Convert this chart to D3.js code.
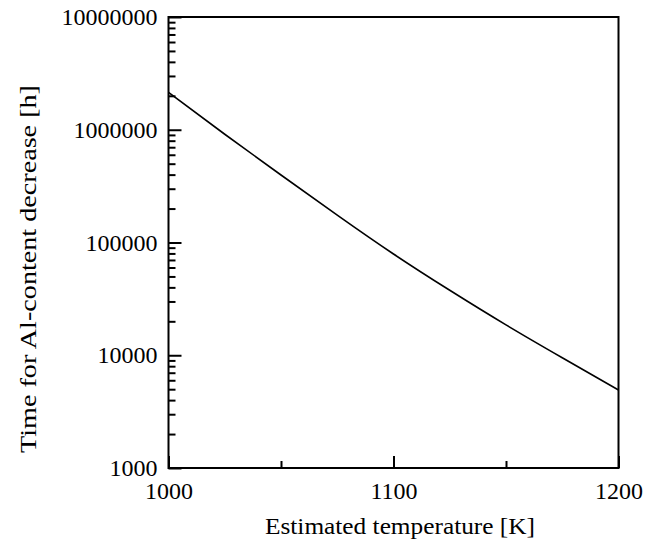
<!DOCTYPE html>
<html>
<head>
<meta charset="utf-8">
<script src="https://cdn.jsdelivr.net/npm/d3@7"></script>
<style>
  html, body { margin: 0; padding: 0; background: #fff; }
  svg { display: block; font-family: "Liberation Serif", "Times New Roman", serif; }
</style>
</head>
<body>
<svg id="chart" width="657" height="542"></svg>
<script>
// Temperature (K) and time until the Al content decreases (h)
const temperatures = [1000, 1025, 1050, 1075, 1100, 1125, 1150, 1175, 1200];
const hours = [2150000, 912000, 397000, 175000, 79100, 37700, 18600, 9510, 4920];

const xMajorTicks = [1000, 1100, 1200];
const xMinorTicks = [1050, 1150];
const yMajorTicks = [1000, 10000, 100000, 1000000, 10000000];

const xTitle = "Estimated temperature [K]";
const yTitle = "Time for Al-content decrease [h]";

const svg = d3.select("#chart");
const plot = { left: 168.5, right: 618.5, top: 17, bottom: 468 };

const x = d3.scaleLinear().domain([1000, 1200]).range([plot.left, plot.right]);
const y = d3.scaleLog().domain([1000, 10000000]).range([plot.bottom, plot.top]);

// minor log ticks: 2..9 of each decade
const yMinorTicks = [];
for (let e = 3; e < 7; e++) for (let m = 2; m <= 9; m++) yMinorTicks.push(m * Math.pow(10, e));

const styleAxis = g => {
  g.select(".domain").remove();
  g.selectAll(".tick line").attr("stroke", "#000").attr("stroke-width", 2);
  g.selectAll(".tick text").attr("fill", "#000").attr("font-size", 24)
    .attr("font-family", "Liberation Serif, serif");
};

// y axis: inward ticks
svg.append("g").attr("transform", `translate(${plot.left},0)`)
  .call(d3.axisLeft(y).tickValues(yMinorTicks).tickSize(-7).tickFormat(""))
  .call(styleAxis);
svg.append("g").attr("transform", `translate(${plot.left},0)`)
  .call(d3.axisLeft(y).tickValues(yMajorTicks).tickSize(-13).tickPadding(11).tickFormat(d3.format("d")))
  .call(styleAxis);

// x axis: inward ticks
svg.append("g").attr("transform", `translate(0,${plot.bottom})`)
  .call(d3.axisBottom(x).tickValues(xMinorTicks).tickSize(-7).tickFormat(""))
  .call(styleAxis);
svg.append("g").attr("transform", `translate(0,${plot.bottom})`)
  .call(d3.axisBottom(x).tickValues(xMajorTicks).tickSize(-12).tickPadding(14).tickFormat(d3.format("d")))
  .call(styleAxis);

// frame
svg.append("rect")
  .attr("x", plot.left).attr("y", plot.top)
  .attr("width", plot.right - plot.left).attr("height", plot.bottom - plot.top)
  .attr("fill", "none").attr("stroke", "#000").attr("stroke-width", 2);

// curve
const line = d3.line()
  .x((d, i) => x(temperatures[i]))
  .y(d => y(d))
  .curve(d3.curveNatural);
svg.append("path")
  .datum(hours)
  .attr("d", line)
  .attr("fill", "none")
  .attr("stroke", "#000")
  .attr("stroke-width", 1.6);

// axis titles
svg.append("text")
  .attr("x", 400).attr("y", 534)
  .attr("text-anchor", "middle").attr("font-size", 24).attr("fill", "#000")
  .attr("textLength", 270).attr("lengthAdjust", "spacingAndGlyphs")
  .text(xTitle);
svg.append("text")
  .attr("transform", `translate(36,269) rotate(-90)`)
  .attr("text-anchor", "middle").attr("font-size", 24).attr("fill", "#000")
  .attr("textLength", 368).attr("lengthAdjust", "spacingAndGlyphs")
  .text(yTitle);
</script>
</body>
</html>
